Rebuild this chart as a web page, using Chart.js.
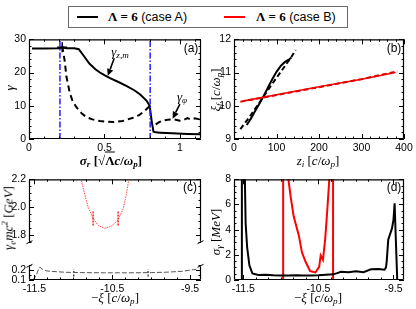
<!DOCTYPE html>
<html><head><meta charset="utf-8">
<script src="https://cdn.jsdelivr.net/npm/chart.js@4.4.1/dist/chart.umd.min.js"></script>
<style>
html,body{margin:0;padding:0;background:#fff}
body{width:416px;height:309px;position:relative;overflow:hidden;font-family:"Liberation Sans",Arial,Helvetica,sans-serif;color:#000}
canvas{position:absolute}
.t{position:absolute;white-space:nowrap;font-family:"Liberation Serif","Times New Roman",serif;font-size:13px;line-height:1;transform:translate(-50%,-50%)}
.t.r{transform:translate(-50%,-50%) rotate(-90deg)}
.t sub{font-size:70%;vertical-align:-0.3em;line-height:0}
.t sup{font-size:70%;vertical-align:0.55em;line-height:0}
.ov{border-top:1px solid #000;padding-top:0px}
.p{position:absolute;font-family:"Liberation Sans",Arial,sans-serif;font-size:12px;line-height:1;transform:translate(-50%,-50%)}
#leg{position:absolute;left:68px;top:6px;width:278px;height:20px;border:1px solid #6a6a6a;background:#fff}
#leg .ln{position:absolute;top:9px;height:2px;width:21px}
#leg .tx{position:absolute;top:3px;font-size:12.5px;white-space:nowrap;line-height:1}
#leg .tx b{font-family:"Liberation Serif","Times New Roman",serif;font-size:13px}
</style>
</head><body>
<div id="leg"></div>
<script>
// ================= DATA =================
// legend
const legendNames = ['(case A)', '(case B)'];
const legendLambda = ['Λ = 6', 'Λ = 6'];
const legendColors = ['#000000', '#ff0000'];

// (a) gamma vs sigma_r
const aSigmaZm = [0.02,0.1,0.2,0.22,0.25,0.3,0.33,0.36,0.40,0.44,0.47,0.5,0.537,0.6,0.648,0.7,0.737,0.78,0.8,0.814,0.825,0.84,0.87,0.95,1.05,1.14];
const aGammaZm = [27.2,27.2,27.3,27.5,27.3,27.3,27.0,25.2,22.7,21.0,20.0,19.2,18.3,17.0,15.9,14.6,13.4,11.5,10.0,5.1,2.2,2.0,1.9,1.7,1.5,1.4];
const aSigmaPhi = [0.22,0.236,0.248,0.27,0.29,0.315,0.35,0.38,0.42,0.47,0.52,0.56,0.62,0.69,0.73,0.76,0.79,0.80,0.82,0.84,0.86,0.89,0.92,0.96,1.0,1.025,1.05,1.07,1.1,1.14];
const aGammaPhi = [28,23.7,18.8,13.9,11.3,9.5,7.7,6.6,5.9,5.4,5.2,5.1,5.4,6.4,7.2,8.2,9.5,10,null,4.4,5.0,5.6,5.8,5.9,5.5,5.7,6.3,5.9,6.2,5.8];
const aCrossSigma = [0.22];
const aCrossGamma = [27.6];
const aCutSigma = [0.205, 0.803];
const aXTicks = [0, 0.5, 1];
const aYTicks = [0, 10, 20, 30];

// (b) xi_f vs z_i
const bASolidZ  = [30,40,50,60,70,80,90,100,110,120,130,135];
const bASolidXi = [9.42,9.62,9.85,10.07,10.3,10.55,10.8,11.02,11.2,11.32,11.4,11.45];
const bADashZ   = [15,30,45,60,75,90,105,120,135,145];
const bADashXi  = [9.3,9.55,9.82,10.1,10.38,10.66,10.93,11.2,11.47,11.68];
const bBSolidZ  = [20,100,200,300,380];
const bBSolidXi = [10.14,10.33,10.57,10.8,11.0];
const bBDashZ   = [15,100,200,300,385];
const bBDashXi  = [10.12,10.32,10.56,10.8,11.04];
const bXTicks = [0, 100, 200, 300, 400];
const bYTicks = [9, 10, 11, 12];

// (c) gamma_e mc^2 vs -xi (broken axis)
const cBXi = [-10.896,-10.853,-10.81,-10.746,-10.68,-10.596,-10.51,-10.425,-10.36,-10.32,-10.29];
const cBE  = [2.19,2.09,2.0,1.92,1.87,1.85,1.866,1.91,1.99,2.09,2.19];
const cBMarks = [-10.746, -10.425];
const cBMarkRange = [1.87, 1.97];
const cAXi = [-11.52,-11.49,-11.47,-11.45,-11.43,-11.4,-11.35,-11.3,-11.1,-10.9,-10.6,-10.3,-10.0,-9.8,-9.6,-9.46,-9.42];
const cAE  = [0.1,0.13,0.16,0.2,0.226,0.205,0.19,0.185,0.175,0.172,0.17,0.17,0.172,0.176,0.185,0.2,0.205];
const cAMarks = [-10.995, -10.04];
const cAMarkRange = [0.135, 0.205];
const cXTicks = [-11.5, -10.5, -9.5];
const cYTopTicks = [1.8, 2.0, 2.2];
const cYBotTicks = [0.1, 0.2];

// (d) sigma_gamma vs -xi
const dAXi  = [-11.52,-11.52,-11.485,-11.48,-11.47,-11.45,-11.42,-11.38,-11.3,-11.2,-11.1,-11.0,-10.9,-10.8,-10.7,-10.6,-10.5,-10.4,-10.3,-10.25,-10.2,-10.1,-10.0,-9.9,-9.8,-9.7,-9.62,-9.6,-9.59,-9.57,-9.52,-9.5,-9.485,-9.47,-9.45];
const dASig = [0,20,20,8,4.5,2.6,1.17,0.52,0.4,0.42,0.38,0.36,0.35,0.37,0.35,0.36,0.38,0.42,0.45,0.55,0.65,0.62,0.7,0.62,0.85,0.88,0.82,1.0,1.5,3.2,4.1,4.8,6.1,3.4,0];
const dBXi  = [-10.97,-10.97,-10.9,-10.87,-10.83,-10.76,-10.72,-10.67,-10.61,-10.54,-10.49,-10.47,-10.44,-10.41,-10.385,-10.355,-10.34,-10.305,-10.305];
const dBSig = [0,20,8,6.6,5.06,3.5,2.2,1.43,0.7,0.6,1.04,1.95,1.6,3.25,5.3,8,20,20,0];
const dXTicks = [-11.5, -10.5, -9.5];
const dYTicks = [0, 2, 4, 6, 8];

// ================= HELPERS =================
const pts = (xs, ys) => xs.map((x, i) => ({x: x, y: ys[i]}));
const vline = (x, r) => [{x: x, y: r[0]}, {x: x, y: r[1]}];
const TICKFONT = {family: '"Liberation Sans", Arial, sans-serif', size: 10.5};

function lin(pos, min, max, ticks, fmt, fit, extra) {
  return Object.assign({
    type: 'linear', position: pos, min: min, max: max,
    afterBuildTicks: s => { s.ticks = ticks.map(v => ({value: v})); },
    afterFit: s => { if (pos === 'bottom') s.height = fit; else s.width = fit; },
    grid: {display: false, drawTicks: false},
    border: {display: false},
    ticks: {padding: 3, color: '#000', font: TICKFONT, autoSkip: false, maxRotation: 0, callback: v => fmt(v)}
  }, extra || {});
}

// frame with inward major/minor ticks on all drawn sides; optional axis break
const framePlugin = {
  id: 'frame',
  afterDatasetsDraw(chart, args, o) {
    const ctx = chart.ctx, a = chart.chartArea;
    const sides = o.sides || 'tb';
    const hasT = sides.indexOf('t') >= 0, hasB = sides.indexOf('b') >= 0;
    ctx.save();
    ctx.strokeStyle = '#000';
    ctx.lineWidth = 1;
    Object.values(chart.scales).forEach(s => {
      const step = (o.minor || {})[s.id];
      const majors = s.ticks.map(t => t.value);
      const lo = Math.min(s.min, s.max), hi = Math.max(s.min, s.max);
      const marks = majors.map(v => [v, 5]);
      if (step && majors.length) {
        for (let k = -300; k <= 300; k++) {
          const v = majors[0] + k * step;
          if (v < lo - 1e-9 || v > hi + 1e-9) continue;
          if (majors.some(m => Math.abs(m - v) < step * 1e-3)) continue;
          marks.push([v, 2.5]);
        }
      }
      ctx.beginPath();
      marks.forEach(([v, len]) => {
        const p = Math.round(s.getPixelForValue(v)) + 0.5;
        if (s.isHorizontal()) {
          if (hasB) { ctx.moveTo(p, a.bottom); ctx.lineTo(p, a.bottom - len); }
          if (hasT) { ctx.moveTo(p, a.top); ctx.lineTo(p, a.top + len); }
        } else {
          ctx.moveTo(a.left, p); ctx.lineTo(a.left + len, p);
          ctx.moveTo(a.right, p); ctx.lineTo(a.right - len, p);
        }
      });
      ctx.stroke();
    });
    ctx.lineWidth = 1.2;
    const L = a.left + 0.5, R = a.right - 0.5, T = a.top + 0.5, B = a.bottom - 0.5;
    const y0 = hasT ? T : a.top + 3, y1 = hasB ? B : a.bottom - 3;
    ctx.beginPath();
    if (hasT) { ctx.moveTo(L, T); ctx.lineTo(R, T); }
    if (hasB) { ctx.moveTo(L, B); ctx.lineTo(R, B); }
    ctx.moveTo(L, y0); ctx.lineTo(L, y1);
    ctx.moveTo(R, y0); ctx.lineTo(R, y1);
    ctx.stroke();
    ctx.lineWidth = 1;
    ctx.beginPath();
    [L, R].forEach(x => {
      if (!hasB) { ctx.moveTo(x - 3, a.bottom - 1); ctx.lineTo(x + 3, a.bottom - 4); }
      if (!hasT) { ctx.moveTo(x - 3, a.top + 4); ctx.lineTo(x + 3, a.top + 1); }
    });
    ctx.stroke();
    ctx.restore();
  }
};

const arrowPlugin = {
  id: 'arrows',
  afterDatasetsDraw(chart, args, o) {
    if (!o.list) return;
    const ctx = chart.ctx, sx = chart.scales.x, sy = chart.scales.y;
    ctx.save();
    ctx.strokeStyle = '#000'; ctx.fillStyle = '#000'; ctx.lineWidth = 1.6;
    o.list.forEach(ar => {
      const x0 = sx.getPixelForValue(ar[0]), y0 = sy.getPixelForValue(ar[1]);
      const x1 = sx.getPixelForValue(ar[2]), y1 = sy.getPixelForValue(ar[3]);
      const ang = Math.atan2(y1 - y0, x1 - x0), L = 7, W = 3.2;
      const bx = x1 - L * Math.cos(ang), by = y1 - L * Math.sin(ang);
      ctx.beginPath(); ctx.moveTo(x0, y0); ctx.lineTo(bx, by); ctx.stroke();
      ctx.beginPath();
      ctx.moveTo(x1, y1);
      ctx.lineTo(bx + W * Math.sin(ang), by - W * Math.cos(ang));
      ctx.lineTo(bx - W * Math.sin(ang), by + W * Math.cos(ang));
      ctx.closePath(); ctx.fill();
    });
    ctx.restore();
  }
};
Chart.register(framePlugin, arrowPlugin);

function mkCanvas(left, top, w, h) {
  const c = document.createElement('canvas');
  c.width = w; c.height = h;
  c.style.left = left + 'px'; c.style.top = top + 'px';
  c.style.width = w + 'px'; c.style.height = h + 'px';
  document.body.appendChild(c);
  return c;
}
function ds(data, color, width, dash, extra) {
  return Object.assign({data: data, borderColor: color, backgroundColor: color, borderWidth: width,
    borderDash: dash || [], pointRadius: 0, tension: 0, fill: false, spanGaps: false}, extra || {});
}
function opts(pad, scales, plugins) {
  return {
    responsive: false, animation: false, devicePixelRatio: 1, events: [],
    layout: {autoPadding: false, padding: pad},
    plugins: Object.assign({legend: {display: false}, tooltip: {enabled: false}}, plugins),
    scales: scales
  };
}
const f0 = v => String(v);
const f1 = v => v.toFixed(1);

// ================= (a) =================
new Chart(mkCanvas(0, 30, 210, 130), {
  type: 'line',
  data: {datasets: [
    ...aCutSigma.map(s => ds(vline(s, [0, 30]), '#2020ff', 1.5, [6, 2, 1.5, 2])),
    ds(pts(aSigmaPhi, aGammaPhi), '#000', 2, [6, 4]),
    ds(pts(aSigmaZm, aGammaZm), '#000', 2),
    ds(pts(aCrossSigma, aCrossGamma), '#000', 1.5, [], {showLine: false, pointRadius: 5, pointStyle: 'cross', pointBorderWidth: 1.5})
  ]},
  options: opts({left: 0, top: 7, right: 9, bottom: 0}, {
    x: lin('bottom', 0, 1.14, aXTicks, f0, 21),
    y: lin('left', 0, 30, aYTicks, f0, 29)
  }, {frame: {minor: {x: 0.1, y: 2}}, arrows: {list: [[0.565, 24.3, 0.522, 19.0], [1.0, 10.5, 0.952, 6.1]]}})
});

// ================= (b) =================
new Chart(mkCanvas(205, 30, 211, 130), {
  type: 'line',
  data: {datasets: [
    ds(pts(bBDashZ, bBDashXi), '#e00000', 2, [5, 3]),
    ds(pts(bBSolidZ, bBSolidXi), '#ff0000', 1.6),
    ds(pts(bADashZ, bADashXi), '#000', 2, [5, 3]),
    ds(pts(bASolidZ, bASolidXi), '#000', 2)
  ]},
  options: opts({left: 0, top: 7, right: 12, bottom: 0}, {
    x: lin('bottom', 0, 400, bXTicks, f0, 21),
    y: lin('left', 9, 12, bYTicks, f0, 29)
  }, {frame: {minor: {x: 20, y: 0.2}}})
});

// ================= (c) upper part (case B) =================
new Chart(mkCanvas(0, 170, 210, 84), {
  type: 'line',
  data: {datasets: [
    ds(pts(cBXi, cBE), 'rgba(255,40,40,0.85)', 1, [1.5, 1]),
    ...cBMarks.map(x => ds(vline(x, cBMarkRange), '#ff2020', 1.5, [2, 1]))
  ]},
  options: opts({left: 0, top: 7, right: 9, bottom: 0}, {
    x: lin('bottom', -11.57, -9.36, cXTicks, f1, 0, {ticks: {display: false}}),
    y: lin('left', 1.733, 2.2, cYTopTicks, f1, 29)
  }, {frame: {minor: {x: 1 / 6, y: 0.05}, sides: 't'}})
});

// ================= (c) lower part (case A) =================
new Chart(mkCanvas(0, 254, 210, 55), {
  type: 'line',
  data: {datasets: [
    ds(pts(cAXi, cAE), '#555', 1, [5, 2]),
    ...cAMarks.map(x => ds(vline(x, cAMarkRange), '#222', 1.2, [2, 1.5]))
  ]},
  options: opts({left: 0, top: 0, right: 9, bottom: 0}, {
    x: lin('bottom', -11.57, -9.36, cXTicks, f1, 29),
    y: lin('left', 0.1, 0.2625, cYBotTicks, f1, 29)
  }, {frame: {minor: {x: 1 / 6, y: 0.05}, sides: 'b'}})
});

// ================= (d) =================
new Chart(mkCanvas(205, 170, 211, 139), {
  type: 'line',
  data: {datasets: [
    ds(pts(dAXi, dASig), '#000', 2),
    ds(pts(dBXi, dBSig), '#ff0000', 2)
  ]},
  options: opts({left: 0, top: 7, right: 12, bottom: 0}, {
    x: lin('bottom', -11.625, -9.36, dXTicks, f1, 29),
    y: lin('left', 0, 8, dYTicks, f0, 29)
  }, {frame: {minor: {x: 1 / 6, y: 0.5}}})
});

// ================= TEXT =================
function put(html, cx, cy, cls) {
  const d = document.createElement('div');
  d.className = cls; d.innerHTML = html;
  d.style.left = cx + 'px'; d.style.top = cy + 'px';
  document.body.appendChild(d);
}
const cwp = '[<i>c</i>/<i>ω<sub>p</sub></i>]';
put('<i>γ</i>', 9, 88, 't r');
put('<b><i>σ<sub>r</sub></i> [√<span class="ov">Λ</span><i>c</i>/<i>ω<sub>p</sub></i>]</b>', 111, 160, 't');
put('<i>ξ<sub>f</sub></i> ' + cwp, 215, 90, 't r');
put('<i>z<sub>i</sub></i> ' + cwp, 318, 160, 't');
put('<i>γ<sub>e</sub>mc<sup>2</sup></i> [<i>GeV</i>]', 8, 218, 't r');
put('−<i>ξ</i> ' + cwp, 115, 297, 't');
put('<i>σ<sub>γ</sub></i> [<i>MeV</i>]', 215, 232, 't r');
put('−<i>ξ</i> ' + cwp, 318, 297, 't');
put('<i>γ<sub>z,m</sub></i>', 120, 51, 't');
put('<i>γ<sub>φ</sub></i>', 182, 96, 't');
put('(a)', 191, 48, 'p');
put('(b)', 394, 48, 'p');
put('(c)', 190, 187, 'p');
put('(d)', 394, 187, 'p');

// legend
const leg = document.getElementById('leg');
const legX = [[8, 39], [155, 187]];
legendNames.forEach((n, i) => {
  const l = document.createElement('div');
  l.className = 'ln'; l.style.left = legX[i][0] + 'px'; l.style.background = legendColors[i];
  leg.appendChild(l);
  const t = document.createElement('div');
  t.className = 'tx'; t.style.left = legX[i][1] + 'px';
  t.innerHTML = '<b>' + legendLambda[i] + '</b> ' + n;
  leg.appendChild(t);
});
</script>
</body></html>
